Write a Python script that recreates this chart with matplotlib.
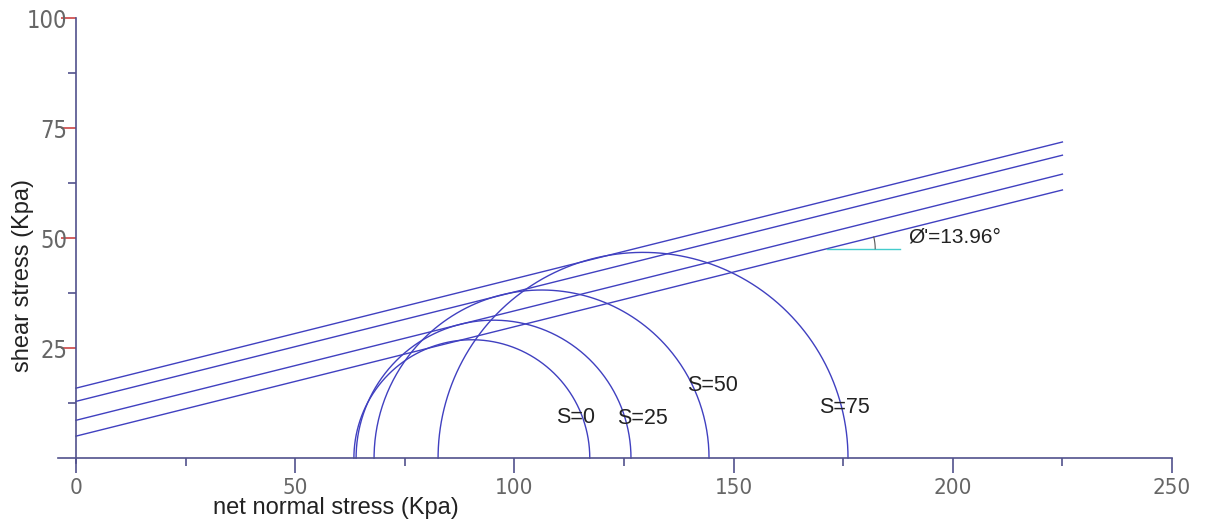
import numpy as np
import matplotlib.pyplot as plt

# Mohr circles: minor / major principal stress for each suction level (Kpa)
suction = [0, 25, 50, 75]
sigma3 = [63.4, 63.9, 68.0, 82.6]
sigma1 = [117.2, 126.6, 144.4, 176.1]

# failure envelopes: common friction angle, one intercept per suction level
phi = 13.96
intercepts = [5.0, 8.6, 12.9, 15.9]
env_xmax = 225

# label positions for the suction tags
label_x = [113.9, 129.2, 145.1, 175.2]
label_y = [9.3, 9.0, 16.6, 11.4]

# angle marker on the lowest envelope
angle_x0 = 171.3
angle_x1 = 187.9
arc_r = 11

axis_col = '#52528c'
line_col = '#4040c0'

fig = plt.figure(figsize=(12.1, 5.25), dpi=100)
ax = fig.add_axes([0.0479, 0.1181, 0.9207, 0.8476])
ax.set_xlim(-4.1, 250)
ax.set_ylim(-1.1, 100)

for sp in ['top', 'right']:
    ax.spines[sp].set_visible(False)
ax.spines['left'].set_position(('data', 0))
ax.spines['bottom'].set_position(('data', 0))
for sp in ['left', 'bottom']:
    ax.spines[sp].set_color(axis_col)
    ax.spines[sp].set_linewidth(1.2)

# circles (upper halves only)
t = np.linspace(0, np.pi, 300)
for s3, s1 in zip(sigma3, sigma1):
    c = (s1 + s3) / 2
    r = (s1 - s3) / 2
    ax.plot(c + r * np.cos(t), r * np.sin(t), color=line_col, lw=1.0)

# envelopes
slope = np.tan(np.radians(phi))
xe = np.array([0, env_xmax])
for c in intercepts:
    ax.plot(xe, c + slope * xe, color=line_col, lw=1.0)

# friction angle marker
y0 = intercepts[0] + slope * angle_x0
ax.plot([angle_x0, angle_x1], [y0, y0], color='#44cccc', lw=1.0)
ta = np.linspace(0, np.radians(phi), 20)
ax.plot(angle_x0 + arc_r * np.cos(ta), y0 + arc_r * np.sin(ta), color='#555555', lw=0.8)
ax.text(189.8, 50.2, "Ø'=%.2f°" % phi, fontsize=15, family=['Liberation Sans', 'DejaVu Sans'],
        color='#222222', va='center', ha='left')

for s, lx, ly in zip(suction, label_x, label_y):
    ax.text(lx, ly, 'S=%d' % s, fontsize=15.5, family=['Liberation Sans', 'DejaVu Sans'],
            color='#222222', ha='center', va='center')

# ticks
ax.set_xticks([0, 50, 100, 150, 200, 250])
ax.set_xticks([25, 75, 125, 175, 225], minor=True)
ax.set_yticks([25, 50, 75, 100])
ax.set_yticks([12.5, 37.5, 62.5, 87.5], minor=True)
ax.tick_params(axis='x', which='major', direction='out', length=11, width=1.2,
               colors=axis_col, labelcolor='#666666', labelsize=16, pad=3)
ax.tick_params(axis='x', which='minor', direction='out', length=6, width=1.2, colors=axis_col)
ax.tick_params(axis='y', which='major', direction='out', length=11, width=1.2,
               colors='#cc4444', labelcolor='#666666', labelsize=17, pad=-5)
ax.tick_params(axis='y', which='minor', direction='out', length=6, width=1.2, colors=axis_col)
for lab in ax.get_xticklabels() + ax.get_yticklabels():
    lab.set_family('DejaVu Sans')
    lab.set_stretch('condensed')
    lab.set_weight('light')

fig.text(336 / 1210, 1 - 508 / 525, 'net normal stress (Kpa)', fontsize=17,
         family=['Liberation Sans', 'DejaVu Sans'], color='#222222', ha='center', va='center')
fig.text(23 / 1210, 1 - 275 / 525, 'shear stress (Kpa)', fontsize=17, rotation=90,
         family=['Liberation Sans', 'DejaVu Sans'], color='#222222', ha='center', va='center')

fig.savefig('out.png', dpi=100, facecolor='white')
